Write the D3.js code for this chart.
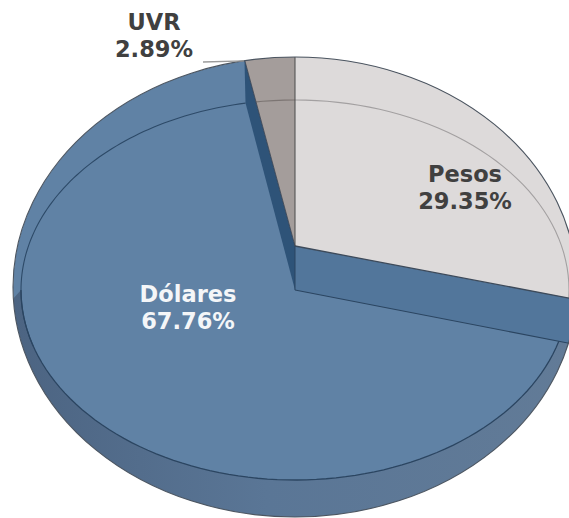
<!DOCTYPE html>
<html><head><meta charset="utf-8">
<script src="https://cdn.jsdelivr.net/npm/d3@7"></script>
<style>html,body{margin:0;padding:0;background:#fff;} svg{display:block;}</style>
</head><body>
<svg id="chart" width="569" height="518"></svg>
<script>
// ---- data ----
const categories = ["Pesos", "Dólares", "UVR"];
const values = [29.35, 67.76, 2.89];
const valueLabels = ["29.35%", "67.76%", "2.89%"];

// ---- style / layout ----
const topColors = {"Pesos": "#dddada", "Dólares": "#6082a5", "UVR": "#a49d9b"};
const textColors = {"Pesos": "#404040", "Dólares": "#f4f6f8", "UVR": "#404040"};
const labelPos = {"Pesos": [465, 182], "Dólares": [188, 302], "UVR": [154, 30]};
const lineGap = 27;

const svg = d3.select("#chart");
const defs = svg.append("defs");

const pieGen = d3.pie().sort(null).value(d => d);
const arcsData = pieGen(values).map((p, i) => ({name: categories[i], label: valueLabels[i], start: p.startAngle, end: p.endAngle}));
const byName = Object.fromEntries(arcsData.map(a => [a.name, a]));

// projected ellipses
const I = {cx: 295, cy: 290, rx: 274, ry: 190};   // rim of the main face
const U = {cx: 295, cy: 246, rx: 280, ry: 190};   // raised face
const O = {cx: 295, cy: 287, rx: 282, ry: 230};   // silhouette
const pt = (e, t) => [e.cx + e.rx * Math.sin(t), e.cy - e.ry * Math.cos(t)];
const far = (P, Q, k) => [P[0] + k * (Q[0] - P[0]), P[1] + k * (Q[1] - P[1])];
const Da = [I.cx, I.cy], Pa = [U.cx, U.cy];
const line = d3.line();
const arcPts = (e, a0, a1, n = 80) => d3.range(n + 1).map(i => pt(e, a0 + (a1 - a0) * i / n));

const pes = byName["Pesos"], dol = byName["Dólares"], uvr = byName["UVR"];

// clip to silhouette
defs.append("clipPath").attr("id", "sil").append("ellipse")
  .attr("cx", O.cx).attr("cy", O.cy).attr("rx", O.rx).attr("ry", O.ry);

const g = svg.append("g").attr("clip-path", "url(#sil)");

// base (Dólares)
g.append("ellipse").attr("cx", O.cx).attr("cy", O.cy).attr("rx", O.rx).attr("ry", O.ry)
  .attr("fill", topColors["Dólares"]);

// side band gradient
const grad = defs.append("linearGradient").attr("id", "side").attr("x1", "0").attr("x2", "1").attr("y1", "0").attr("y2", "0");
grad.append("stop").attr("offset", "0%").attr("stop-color", "#4c6482");
grad.append("stop").attr("offset", "45%").attr("stop-color", "#5a7696");
grad.append("stop").attr("offset", "100%").attr("stop-color", "#627b97");

const bandPts = [...arcPts(I, Math.PI / 2, 3 * Math.PI / 2), ...arcPts(O, 3 * Math.PI / 2 - 0.05, Math.PI / 2)];
g.append("path").attr("d", line(bandPts) + "Z").attr("fill", "url(#side)");

// radial wall at Pesos boundary
const wallPts = [Da, far(Da, pt(I, pes.end), 1.3), far(Pa, pt(U, pes.end), 1.3), Pa];
g.append("path").attr("d", line(wallPts) + "Z").attr("fill", "#52769b");

// dark strip at UVR boundary
const stripPts = [Da, pt(I, uvr.start), pt(U, uvr.start), Pa];
g.append("path").attr("d", line(stripPts) + "Z").attr("fill", "#2e5378");

// Pesos face
const pesPts = [Pa, ...d3.range(0, 41).map(i => far(Pa, pt(U, pes.start + (pes.end - pes.start) * i / 40), 1.4))];
g.append("path").attr("d", line(pesPts) + "Z").attr("fill", topColors["Pesos"]);

// UVR face
const uvrPts = [Pa, ...d3.range(0, 11).map(i => far(Pa, pt(U, uvr.start + (uvr.end - uvr.start) * i / 10), 1.4))];
g.append("path").attr("d", line(uvrPts) + "Z").attr("fill", topColors["UVR"]);

// inner rim lines
defs.append("clipPath").attr("id", "clipPes").append("path").attr("d", line(pesPts) + "Z");
defs.append("clipPath").attr("id", "clipUvr").append("path").attr("d", line(uvrPts) + "Z");
const fullI = line(arcPts(I, 0, 2 * Math.PI, 160)) + "Z";
g.append("path").attr("d", fullI).attr("clip-path", "url(#clipPes)").attr("fill", "none").attr("stroke", "#a3a0a1").attr("stroke-width", 1.1);
g.append("path").attr("d", fullI).attr("clip-path", "url(#clipUvr)").attr("fill", "none").attr("stroke", "#7c7573").attr("stroke-width", 1.1);
g.append("path").attr("d", line(arcPts(I, 3 * Math.PI / 2 - 0.3, uvr.start))).attr("fill", "none").attr("stroke", "#2d4a68").attr("stroke-width", 1.1);
g.append("path").attr("d", line(arcPts(I, pes.end, 3 * Math.PI / 2))).attr("fill", "none").attr("stroke", "#2b4561").attr("stroke-width", 1.3);

// edges
g.append("path").attr("d", line([Pa, far(Pa, pt(U, pes.end), 1.3)])).attr("stroke", "#3d4a5a").attr("stroke-width", 1.3).attr("fill", "none");
g.append("path").attr("d", line([Da, far(Da, pt(I, pes.end), 1.3)])).attr("stroke", "#2b4561").attr("stroke-width", 1.1).attr("fill", "none");
g.append("path").attr("d", line([Pa, far(Pa, pt(U, 0), 1.4)])).attr("stroke", "#4a4a4a").attr("stroke-width", 1).attr("fill", "none");
g.append("path").attr("d", line([Pa, Da])).attr("stroke", "#2b4561").attr("stroke-width", 1).attr("fill", "none");
g.append("path").attr("d", line([Pa, pt(U, uvr.start)])).attr("stroke", "#3a4250").attr("stroke-width", 0.8).attr("fill", "none");

// silhouette outline
svg.append("ellipse").attr("cx", O.cx).attr("cy", O.cy).attr("rx", O.rx).attr("ry", O.ry)
  .attr("fill", "none").attr("stroke", "#4c5560").attr("stroke-width", 1.1);

// UVR leader line
const lp = labelPos["UVR"];
svg.append("path").attr("d", line([[lp[0] + 49, lp[1] + 32], pt(O, uvr.start)]))
  .attr("stroke", "#9a9a9a").attr("stroke-width", 1.3).attr("fill", "none");

// labels
arcsData.forEach(a => {
  const [x, y] = labelPos[a.name];
  const t = svg.append("text").attr("text-anchor", "middle")
    .attr("font-family", "'DejaVu Sans', Verdana, sans-serif").attr("font-weight", "bold")
    .attr("font-size", 22.5).attr("fill", textColors[a.name]);
  t.append("tspan").attr("x", x).attr("y", y).text(a.name);
  t.append("tspan").attr("x", x).attr("y", y + lineGap).text(a.label);
});
</script>
</body></html>
